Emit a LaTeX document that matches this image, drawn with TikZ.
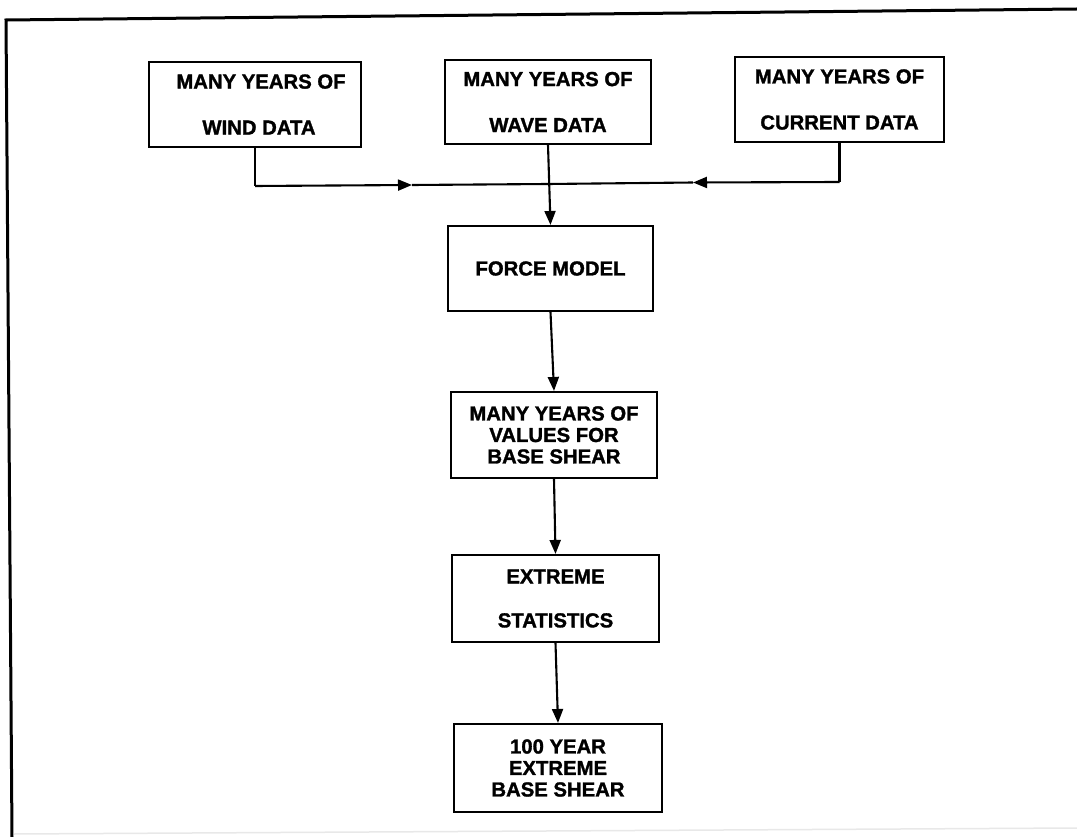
\documentclass[tikz,border=0pt]{standalone}
\usepackage{fontspec}
\setmainfont{Liberation Sans}[BoldFeatures={FakeBold=1.4}]
\usetikzlibrary{arrows.meta}

\tikzset{
  block/.style={draw=black, line width=2.1pt, inner sep=0pt, align=center,
    font=\bfseries\fontsize{20.3}{21.5}\selectfont},
  flow/.style={draw=black, line width=2.1pt},
  flowarrow/.style={flow, -{Triangle[length=14pt,width=11pt]}},
  frameline/.style={draw=black, line width=3pt},
}

\begin{document}
\begin{tikzpicture}[x=1pt, y=-1pt]
  \useasboundingbox (0,0) rectangle (1077,837);
  \fill[white] (0,0) rectangle (1077,837);

  % outer frame (left and top edges, faint bottom edge)
  \coordinate (fbl) at (12,837);
  \coordinate (ftl) at (6,20);
  \coordinate (ftr) at (1077,9);
  \draw[frameline] (fbl) -- (ftl) -- (ftr);
  \coordinate (fb1) at (14,834);
  \coordinate (fb2) at (1077,828);
  \draw[gray!18, line width=1.5pt] (fb1) -- (fb2);

  % input data
  \node[block, minimum width=212pt, minimum height=85pt] (wind) at (255,104.5)
    {\hspace*{12pt}MANY YEARS OF\\[24.5pt]\hspace*{8pt}WIND DATA};
  \node[block, minimum width=206pt, minimum height=84pt] (wave) at (548,102)
    {MANY YEARS OF\\[24.5pt]WAVE DATA};
  \node[block, minimum width=209pt, minimum height=85pt] (current) at (839.5,99.5)
    {MANY YEARS OF\\[24.5pt]CURRENT DATA};

  % processing chain
  \node[block, minimum width=205pt, minimum height=85pt] (force) at (550.5,268.5)
    {FORCE MODEL};
  \node[block, minimum width=206pt, minimum height=86pt] (values) at (554,435)
    {MANY YEARS OF\\VALUES FOR\\BASE SHEAR};
  \node[block, minimum width=207pt, minimum height=87pt] (extreme) at (555.5,598.5)
    {\raisebox{-2pt}{EXTREME}\\[22.5pt]\raisebox{-2pt}{STATISTICS}};
  \node[block, minimum width=208pt, minimum height=88pt] (result) at (558,768)
    {100 YEAR\\EXTREME\\BASE SHEAR};

  % collector line joining the three inputs
  \coordinate (jw) at (wind.south |- 0,186);
  \coordinate (wa) at (412,185);
  \coordinate (jm) at (wave.south |- 0,184);
  \coordinate (ca) at (693,182.5);
  \coordinate (jc) at (current.south |- 0,182);

  \draw[flow] (wind.south) -- (jw);
  \draw[flowarrow] (jw) -- (wa);
  \draw[flow] (wa) -- (jm);

  \draw[flow] (current.south) -- (jc);
  \draw[flowarrow] (jc) -- (ca);
  \draw[flow] (ca) -- (jm);

  \draw[flowarrow] (wave.south) -- (force.north);
  \draw[flowarrow] (force.south) -- (values.north);
  \draw[flowarrow] (values.south) -- (extreme.north);
  \draw[flowarrow] (extreme.south) -- (result.north);
\end{tikzpicture}
\end{document}
